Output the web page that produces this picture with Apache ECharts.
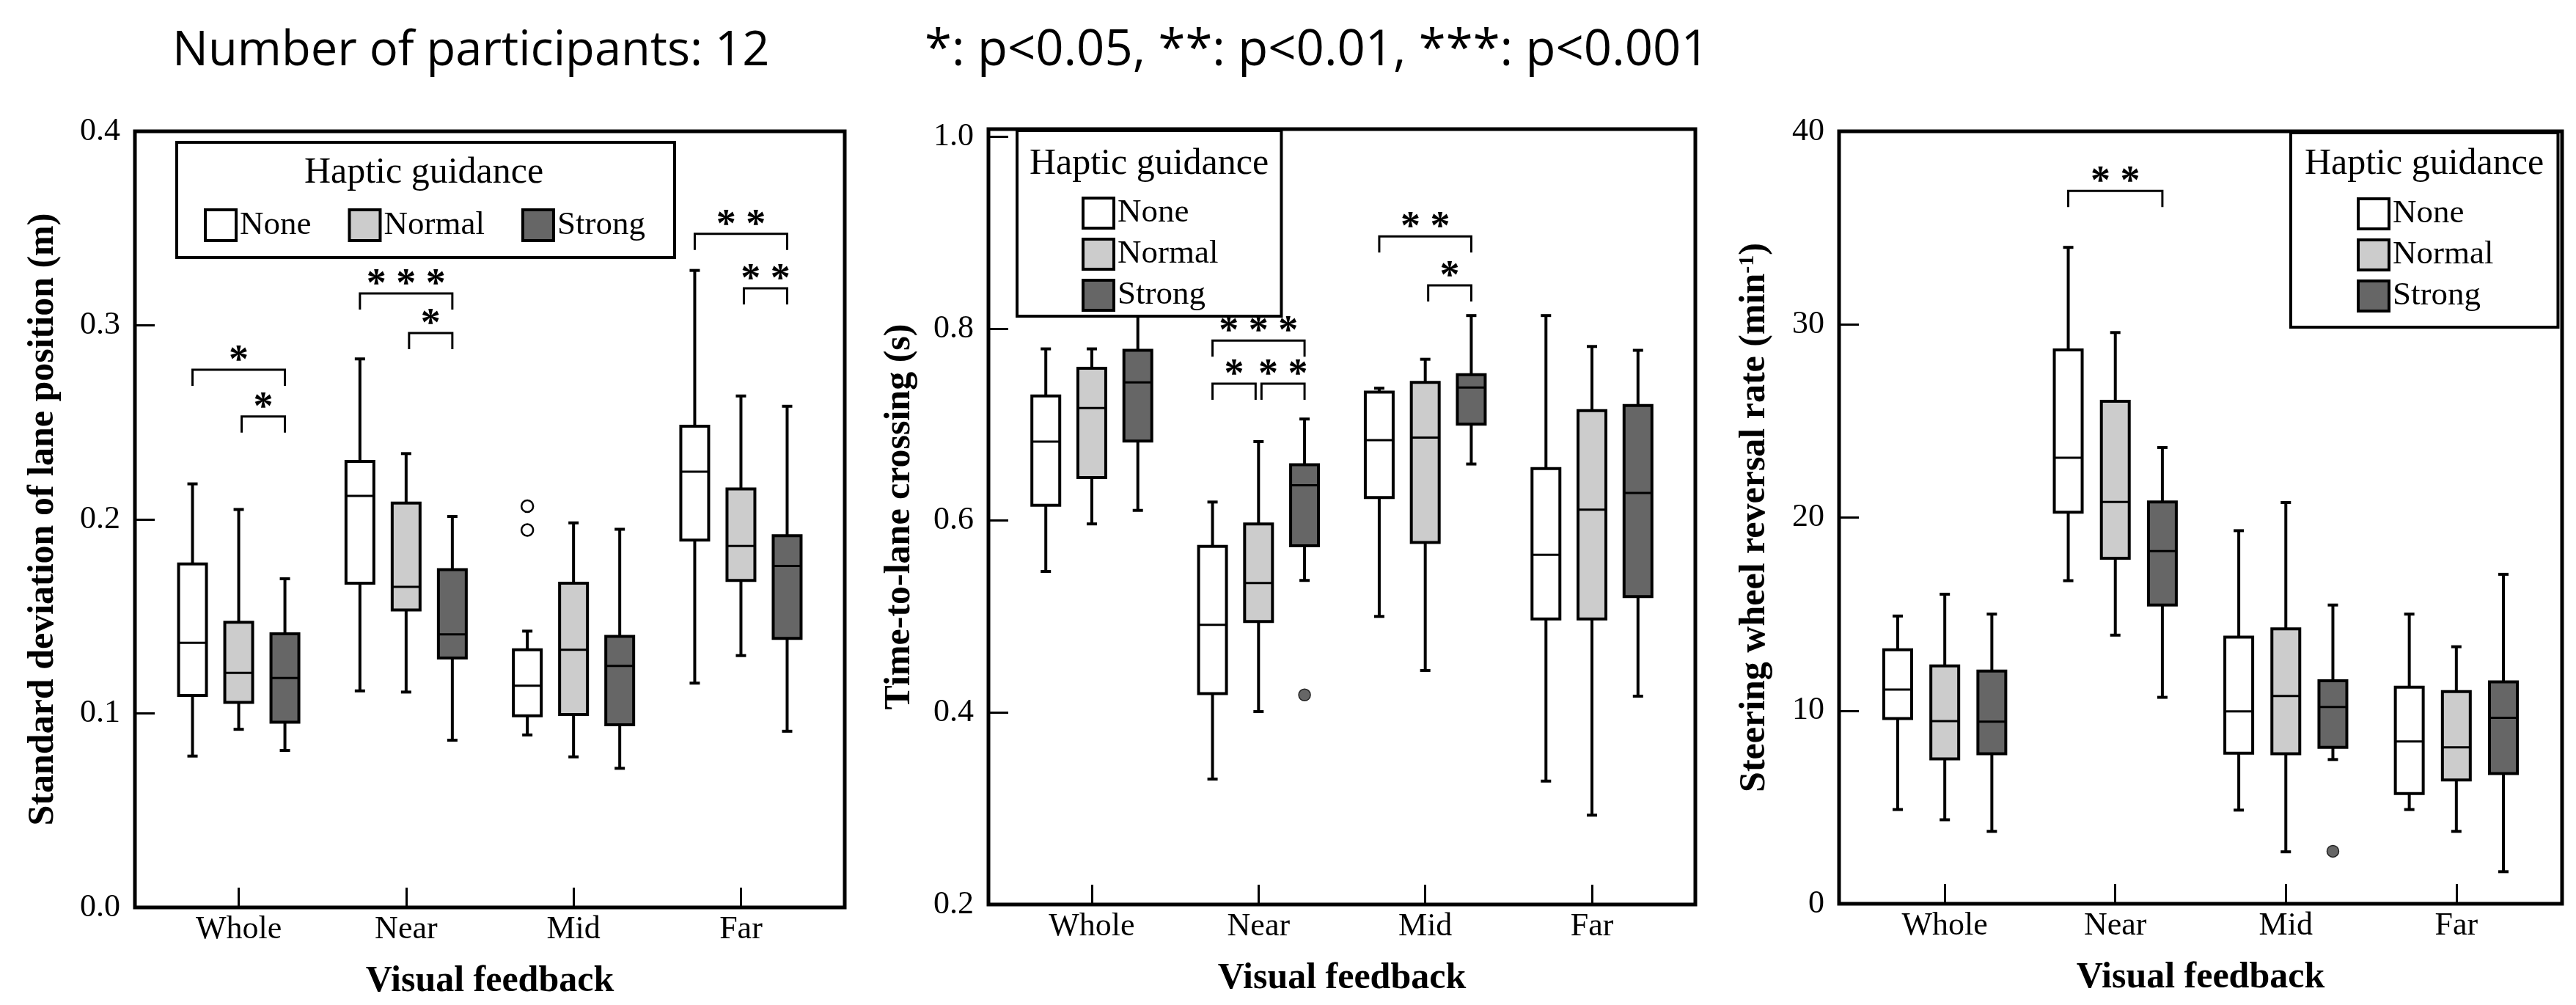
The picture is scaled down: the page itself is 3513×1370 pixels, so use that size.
<!DOCTYPE html>
<html>
<head>
<meta charset="utf-8">
<script src="https://cdn.jsdelivr.net/npm/echarts@6/dist/echarts.min.js"></script>
<style>
  html, body { margin: 0; padding: 0; background: #fff; }
  #chart { width: 3513px; height: 1370px; }
</style>
</head>
<body>
<div id="chart"></div>
<script>
// categories and groups
const cats = ['Whole', 'Near', 'Mid', 'Far'];
const levels = ['None', 'Normal', 'Strong'];

// [min, q1, median, q3, max] per category
// SD of lane position (m)
const laneNone   = [[0.078, 0.1093, 0.1364, 0.177, 0.2183], [0.1116, 0.1671, 0.2121, 0.2299, 0.2827], [0.0889, 0.0988, 0.1143, 0.1328, 0.1424], [0.1156, 0.1893, 0.2246, 0.248, 0.3283]];
const laneNormal = [[0.0918, 0.1057, 0.1209, 0.147, 0.2051], [0.111, 0.1533, 0.1652, 0.2084, 0.2339], [0.0776, 0.0994, 0.1328, 0.1671, 0.1982], [0.1298, 0.1685, 0.1863, 0.2157, 0.2636]];
const laneStrong = [[0.0809, 0.0955, 0.1182, 0.141, 0.1694], [0.0862, 0.1285, 0.1407, 0.1741, 0.2015], [0.0717, 0.0941, 0.1245, 0.1397, 0.1949], [0.0908, 0.1387, 0.176, 0.1916, 0.2583]];
// time-to-lane crossing (s)
const tlcNone   = [[0.547, 0.6161, 0.6824, 0.730, 0.779], [0.3307, 0.4198, 0.4915, 0.5732, 0.6194], [0.5002, 0.6241, 0.6838, 0.734, 0.738], [0.3286, 0.4975, 0.5645, 0.6543, 0.8137]];
const tlcNormal = [[0.5966, 0.6449, 0.7173, 0.7588, 0.779], [0.401, 0.4948, 0.535, 0.5966, 0.6824], [0.4439, 0.5772, 0.6865, 0.7441, 0.7682], [0.2931, 0.4975, 0.6114, 0.7146, 0.7815]];
const tlcStrong = [[0.6107, 0.683, 0.744, 0.7775, 0.822], [0.5377, 0.5739, 0.6369, 0.6583, 0.7059], [0.659, 0.7005, 0.7387, 0.7521, 0.8137], [0.4171, 0.5209, 0.6288, 0.72, 0.7775]];
// steering wheel reversal rate (1/min)
const srrNone   = [[4.88, 9.59, 11.09, 13.15, 14.9], [16.73, 20.28, 23.1, 28.68, 33.99], [4.85, 7.8, 9.96, 13.81, 19.32], [4.88, 5.71, 8.4, 11.22, 15.0]];
const srrNormal = [[4.35, 7.5, 9.46, 12.32, 16.03], [13.91, 17.89, 20.81, 26.02, 29.58], [2.69, 7.77, 10.76, 14.24, 20.78], [3.75, 6.41, 8.1, 10.99, 13.31]];
const srrStrong = [[3.75, 7.77, 9.43, 12.05, 15.0], [10.69, 15.47, 18.26, 20.81, 23.63], [7.47, 8.1, 10.19, 11.55, 15.47], [1.66, 6.74, 9.63, 11.49, 17.06]];

// outliers: [category index, level index, value]
const laneOutliers = [[2, 0, 0.2068], [2, 0, 0.1945]];
const tlcOutliers = [[1, 2, 0.4184]];
const srrOutliers = [[2, 2, 2.72]];

// significance brackets: [category index, from level, to level, y, label]
const laneSig = [[0, 0, 2, 0.2771, '*'], [0, 1, 2, 0.253, '*'], [1, 0, 2, 0.3164, '* * *'], [1, 1, 2, 0.296, '*'], [3, 0, 2, 0.3472, '* *'], [3, 1, 2, 0.3191, '* *']];
const tlcSig = [[1, 0, 2, 0.7876, '* * *'], [1, 0, 1, 0.7427, '*'], [1, 1, 2, 0.7427, '* *'], [2, 0, 2, 0.8962, '* *'], [2, 1, 2, 0.8452, '*']];
const srrSig = [[1, 0, 2, 36.91, '* *']];

// y ticks
const laneTicks = [0, 0.1, 0.2, 0.3, 0.4];
const tlcTicks = [0.2, 0.4, 0.6, 0.8, 1.0];
const srrTicks = [0, 10, 20, 30, 40];

const COLORS = ['#ffffff', '#cccccc', '#666666'];
const OFFSETS = [-0.276, 0, 0.276];
const BOX_W = 38;
const CAP_W = 14;
const SERIF = '"Liberation Serif", "Times New Roman", serif';

function boxRender(level) {
  return function (params, api) {
    const x = api.value(0) + OFFSETS[level];
    const lo = api.coord([x, api.value(1)]);
    const q1 = api.coord([x, api.value(2)]);
    const md = api.coord([x, api.value(3)]);
    const q3 = api.coord([x, api.value(4)]);
    const hi = api.coord([x, api.value(5)]);
    const cx = q1[0];
    const ls = { stroke: '#000', lineWidth: 4 };
    return {
      type: 'group',
      children: [
        { type: 'line', shape: { x1: cx, y1: hi[1], x2: cx, y2: q3[1] }, style: ls },
        { type: 'line', shape: { x1: cx, y1: q1[1], x2: cx, y2: lo[1] }, style: ls },
        { type: 'line', shape: { x1: cx - CAP_W / 2, y1: hi[1], x2: cx + CAP_W / 2, y2: hi[1] }, style: ls },
        { type: 'line', shape: { x1: cx - CAP_W / 2, y1: lo[1], x2: cx + CAP_W / 2, y2: lo[1] }, style: ls },
        { type: 'rect', shape: { x: cx - BOX_W / 2, y: q3[1], width: BOX_W, height: q1[1] - q3[1] },
          style: { fill: COLORS[level], stroke: '#000', lineWidth: 4 } },
        { type: 'line', shape: { x1: cx - BOX_W / 2, y1: md[1], x2: cx + BOX_W / 2, y2: md[1] },
          style: { stroke: '#000', lineWidth: 3 } }
      ]
    };
  };
}

function outlierRender(params, api) {
  const lv = api.value(1);
  const p = api.coord([api.value(0) + OFFSETS[lv], api.value(2)]);
  return { type: 'circle', shape: { cx: p[0], cy: p[1], r: 8 },
    style: { fill: COLORS[lv], stroke: lv === 0 ? '#000' : '#222', lineWidth: lv === 0 ? 2.5 : 1.5 } };
}

function sigRender(list) {
  return function (params, api) {
    const row = list[params.dataIndex];
    const a = api.coord([row[0] + 1 + OFFSETS[row[1]], row[3]]);
    const b = api.coord([row[0] + 1 + OFFSETS[row[2]], row[3]]);
    const x1 = a[0] + (row[1] === 1 ? 4 : 0);
    const x2 = b[0] - (row[2] === 1 ? 4 : 0);
    const y = a[1];
    const ls = { stroke: '#000', lineWidth: 3, fill: null };
    return {
      type: 'group',
      children: [
        { type: 'polyline', shape: { points: [[x1, y + 22], [x1, y], [x2, y], [x2, y + 22]] }, style: ls },
        { type: 'text', x: (x1 + x2) / 2, y: y - 11,
          style: { text: row[4], fill: '#000', fontSize: 54, fontWeight: 'bold', fontFamily: SERIF, align: 'center', verticalAlign: 'middle' } }
      ]
    };
  };
}

const panels = [
  { left: 184, right: 3513 - 1152, top: 179, bottom: 1370 - 1237, min: 0, max: 0.4, ticks: laneTicks, dec: 1,
    name: 'Standard deviation of lane position (m)', nameGap: 100,
    data: [laneNone, laneNormal, laneStrong], outliers: laneOutliers, sig: laneSig },
  { left: 1348, right: 3513 - 2312, top: 176, bottom: 1370 - 1233, min: 0.2, max: 1.008, ticks: tlcTicks, dec: 1,
    name: 'Time-to-lane crossing (s)', nameGap: 96,
    data: [tlcNone, tlcNormal, tlcStrong], outliers: tlcOutliers, sig: tlcSig },
  { left: 2508, right: 3513 - 3494, top: 179, bottom: 1370 - 1232, min: 0, max: 40, ticks: srrTicks, dec: 0,
    name: '{b|Steering wheel reversal rate (min}{s|-1}{b|)}', nameGap: 90,
    data: [srrNone, srrNormal, srrStrong], outliers: srrOutliers, sig: srrSig }
];

const grid = [], xAxis = [], yAxis = [], series = [];
panels.forEach(function (p, i) {
  grid.push({ left: p.left, right: p.right, top: p.top, bottom: p.bottom, show: true,
    borderColor: '#000', borderWidth: 5, backgroundColor: 'transparent', outerBoundsMode: 'none' });
  xAxis.push({
    gridIndex: i, type: 'value', min: 0.38, max: 4.62,
    name: 'Visual feedback', nameLocation: 'middle', nameGap: 76,
    nameTextStyle: { fontFamily: SERIF, fontWeight: 'bold', fontSize: 50, color: '#000' },
    axisLine: { show: false },
    axisTick: { show: true, inside: true, length: 27, customValues: [1, 2, 3, 4], lineStyle: { color: '#000', width: 3 } },
    axisLabel: { customValues: [1, 2, 3, 4], margin: 8, fontFamily: SERIF, fontSize: 44, color: '#000',
      formatter: function (v) { return cats[Math.round(v) - 1] || ''; } },
    splitLine: { show: false }
  });
  yAxis.push({
    gridIndex: i, type: 'value', min: p.min, max: p.max,
    name: p.name, nameLocation: 'middle', nameGap: p.nameGap, nameRotate: 90,
    nameTextStyle: { fontFamily: SERIF, fontWeight: 'bold', fontSize: 50, color: '#000',
      rich: { b: { fontFamily: SERIF, fontWeight: 'bold', fontSize: 50, color: '#000' },
              s: { fontFamily: SERIF, fontWeight: 'bold', fontSize: 30, color: '#000', verticalAlign: 'top' } } },
    axisLine: { show: false },
    axisTick: { show: true, inside: true, length: 27, customValues: p.ticks, lineStyle: { color: '#000', width: 3 } },
    axisLabel: { customValues: p.ticks, margin: 20, fontFamily: SERIF, fontSize: 44, color: '#000',
      formatter: function (v) { return v.toFixed(p.dec); } },
    splitLine: { show: false }
  });
  p.data.forEach(function (arr, lv) {
    series.push({
      type: 'custom', name: levels[lv], xAxisIndex: i, yAxisIndex: i,
      itemStyle: { color: COLORS[lv], borderColor: '#000', borderWidth: 4 },
      encode: { x: 0, y: [1, 2, 3, 4, 5] },
      renderItem: boxRender(lv),
      data: arr.map(function (v, c) { return [c + 1].concat(v); })
    });
  });
  series.push({
    type: 'custom', xAxisIndex: i, yAxisIndex: i, z: 3,
    encode: { x: 0, y: 2 },
    renderItem: outlierRender,
    data: p.outliers.map(function (o) { return [o[0] + 1, o[1], o[2]]; })
  });
  series.push({
    type: 'custom', xAxisIndex: i, yAxisIndex: i, z: 3,
    encode: { x: 0, y: 3 },
    renderItem: sigRender(p.sig),
    data: p.sig.map(function (s) { return [s[0], s[1], s[2], s[3]]; })
  });
});

function legendData() {
  return levels.map(function (n, lv) {
    return { name: n, icon: 'rect', itemStyle: { color: COLORS[lv], borderColor: '#000', borderWidth: 4 } };
  });
}
const legendText = { fontFamily: SERIF, fontSize: 45, color: '#000' };
const legend = [
  { orient: 'horizontal', left: 241, top: 194, padding: [90, 40, 21, 37], itemGap: 50, itemWidth: 42, itemHeight: 42,
    borderColor: '#000', borderWidth: 4, backgroundColor: '#fff', selectedMode: false, textStyle: legendText, data: legendData() },
  { orient: 'vertical', left: 1387, top: 178, padding: [90, 86, 6, 88], itemGap: 11, itemWidth: 42, itemHeight: 41,
    borderColor: '#000', borderWidth: 4, backgroundColor: '#fff', selectedMode: false, textStyle: legendText, data: legendData() },
  { orient: 'vertical', left: 3124, top: 181, padding: [88, 88, 20, 90], itemGap: 11, itemWidth: 42, itemHeight: 41,
    borderColor: '#000', borderWidth: 4, backgroundColor: '#fff', selectedMode: false, textStyle: legendText, data: legendData() }
];

const graphic = [
  { type: 'text', x: 235, y: 70, z: 100, style: { text: 'Number of participants: 12', fontFamily: '"Open Sans"', fontSize: 65, fill: '#000', align: 'left', verticalAlign: 'middle' } },
  { type: 'text', x: 1261, y: 70, z: 100, style: { text: '*: p<0.05, **: p<0.01, ***: p<0.001', fontFamily: '"Open Sans"', fontSize: 67, fill: '#000', align: 'left', verticalAlign: 'middle' } },
  { type: 'text', x: 578, y: 236, z: 100, style: { text: 'Haptic guidance', fontFamily: SERIF, fontSize: 50, fill: '#000', align: 'center', verticalAlign: 'middle' } },
  { type: 'text', x: 1567, y: 224, z: 100, style: { text: 'Haptic guidance', fontFamily: SERIF, fontSize: 50, fill: '#000', align: 'center', verticalAlign: 'middle' } },
  { type: 'text', x: 3306, y: 224, z: 100, style: { text: 'Haptic guidance', fontFamily: SERIF, fontSize: 50, fill: '#000', align: 'center', verticalAlign: 'middle' } }
];

const chart = echarts.init(document.getElementById('chart'));
chart.setOption({
  animation: false,
  backgroundColor: '#fff',
  grid: grid,
  xAxis: xAxis,
  yAxis: yAxis,
  legend: legend,
  graphic: graphic,
  series: series
});
</script>
</body>
</html>
